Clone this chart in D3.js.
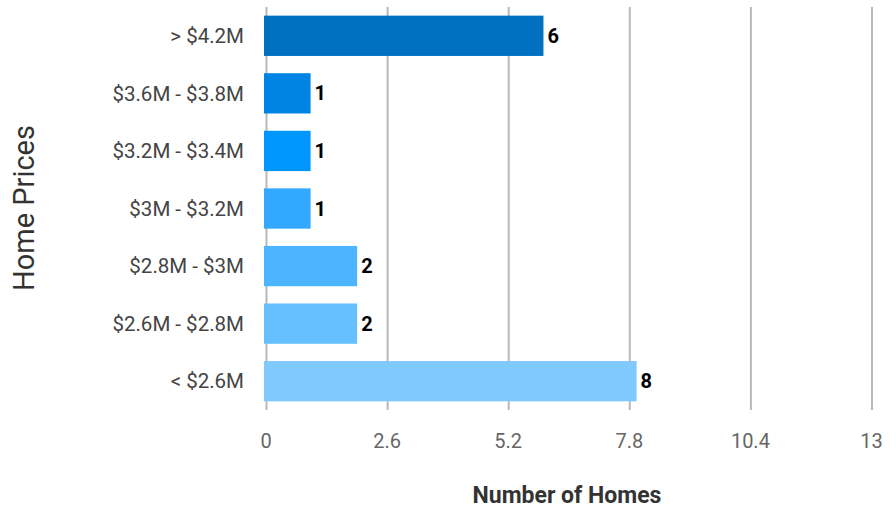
<!DOCTYPE html>
<html>
<head>
<meta charset="utf-8">
<script src="https://cdn.jsdelivr.net/npm/d3@7"></script>
<style>
  body { margin: 0; background: #fff; }
  svg { font-family: Roboto, "Noto Sans", sans-serif; }
  .grid line { stroke: #b8b8b8; stroke-width: 2; }
  .grid path { display: none; }
</style>
</head>
<body>
<svg id="chart" width="896" height="510"></svg>
<script>
// chart data
var categories = ['> $4.2M', '$3.6M - $3.8M', '$3.2M - $3.4M', '$3M - $3.2M', '$2.8M - $3M', '$2.6M - $2.8M', '< $2.6M'];
var counts = [6, 1, 1, 1, 2, 2, 8];
var colors = ['#0070c0', '#0084e3', '#0096ff', '#33a8ff', '#4db4ff', '#66bfff', '#80c9ff'];
var xTicks = [0, 2.6, 5.2, 7.8, 10.4, 13];

var svg = d3.select('#chart');

var x = d3.scaleLinear().domain([0, 13]).range([265, 870.5]);
var y = d3.scaleBand().domain(categories).range([7, 410]).paddingInner(0.3).paddingOuter(0.15);

// vertical grid lines
svg.append('g')
  .attr('class', 'grid')
  .attr('transform', 'translate(0,410)')
  .call(d3.axisBottom(x).tickValues(xTicks).tickSize(-403).tickFormat(''))
  .selectAll('line').attr('transform', 'translate(1,0)');

// bars
svg.append('g').selectAll('rect')
  .data(categories)
  .enter().append('rect')
  .attr('x', x(0) - 1)
  .attr('y', function(d){ return y(d); })
  .attr('height', y.bandwidth())
  .attr('width', function(d, i){ return x(counts[i]) - x(0); })
  .attr('fill', function(d, i){ return colors[i]; });

// value labels
svg.append('g').selectAll('text')
  .data(categories)
  .enter().append('text')
  .attr('x', function(d, i){ return x(counts[i]) + 3; })
  .attr('y', function(d){ return y(d) + y.bandwidth() / 2; })
  .attr('dy', '0.35em')
  .attr('font-size', 20)
  .attr('font-weight', 'bold')
  .attr('fill', '#000')
  .text(function(d, i){ return counts[i]; });

// category labels
svg.append('g').selectAll('text')
  .data(categories)
  .enter().append('text')
  .attr('x', 244)
  .attr('y', function(d){ return y(d) + y.bandwidth() / 2; })
  .attr('dy', '0.35em')
  .attr('text-anchor', 'end')
  .attr('font-size', 20.5)
  .attr('fill', '#444')
  .text(function(d){ return d; });

// x tick labels
svg.append('g').selectAll('text')
  .data(xTicks)
  .enter().append('text')
  .attr('x', function(d){ return x(d) + 1; })
  .attr('y', 448)
  .attr('text-anchor', 'middle')
  .attr('font-size', 20)
  .attr('fill', '#666')
  .text(function(d){ return d; });

// axis titles
svg.append('text')
  .attr('x', 567)
  .attr('y', 503)
  .attr('text-anchor', 'middle')
  .attr('font-size', 23)
  .attr('font-weight', 'bold')
  .attr('fill', '#333')
  .text('Number of Homes');

svg.append('text')
  .attr('transform', 'translate(34,208) rotate(-90)')
  .attr('text-anchor', 'middle')
  .attr('font-size', 29)
  .attr('fill', '#333')
  .text('Home Prices');
</script>
</body>
</html>
